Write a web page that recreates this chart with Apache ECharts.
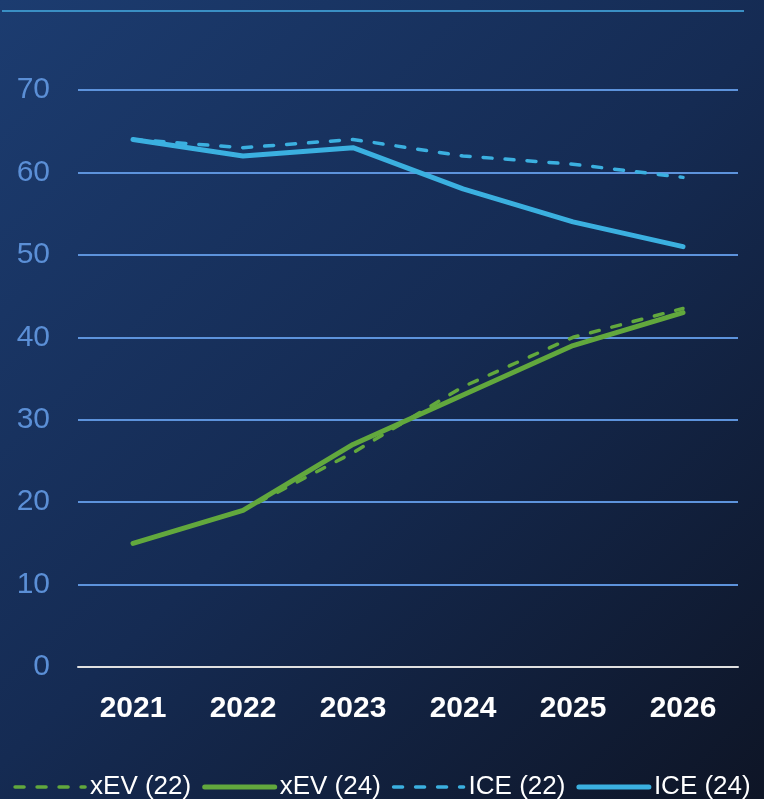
<!DOCTYPE html>
<html>
<head>
<meta charset="utf-8">
<script src="https://cdn.jsdelivr.net/npm/echarts@6/dist/echarts.min.js"></script>
<style>
  html, body { margin: 0; padding: 0; }
  #chart { width: 764px; height: 799px; }
</style>
</head>
<body>
<div id="chart"></div>
<script>
// Categories and series values
const years = ['2021', '2022', '2023', '2024', '2025', '2026'];
const xev22 = [15, 19, 26, 34, 40, 43.5];
const xev24 = [15, 19, 27, 33, 39, 43];
const ice22 = [64, 63, 64, 62, 61, 59.4];
const ice24 = [64, 62, 63, 58, 54, 51];
const yTicks = [0, 10, 20, 30, 40, 50, 60, 70];

const GREEN = '#62a83d';
const BLUE = '#3bb0e0';
const FONT = '"Liberation Sans", Arial, sans-serif';
const DASH_WIDTH = 3.5;
const SOLID_WIDTH = 5;

function dashedLine(name, data, color) {
  return {
    name, type: 'line', data, symbol: 'none', smooth: false,
    lineStyle: { color, width: DASH_WIDTH, type: [9, 13], cap: 'round' },
    itemStyle: { color },
    z: 2
  };
}
function solidLine(name, data, color) {
  return {
    name, type: 'line', data, symbol: 'none', smooth: false,
    lineStyle: { color, width: SOLID_WIDTH, type: 'solid', cap: 'round', join: 'round' },
    itemStyle: { color },
    z: 3
  };
}

const chart = echarts.init(document.getElementById('chart'), null, { renderer: 'canvas' });
chart.setOption({
  animation: false,
  backgroundColor: {
    type: 'linear', x: 0, y: 0, x2: 1, y2: 1,
    colorStops: [
      { offset: 0, color: '#1c3c70' },
      { offset: 0.5, color: '#152b53' },
      { offset: 1, color: '#0e1526' }
    ]
  },
  graphic: [{
    type: 'line',
    shape: { x1: 2, y1: 11, x2: 744, y2: 11 },
    style: { stroke: '#3a8fc4', lineWidth: 2 }
  }],
  grid: { left: 78, right: 26, top: 90, bottom: 132, containLabel: false },
  legend: {
    top: 769,
    left: 'center',
    itemWidth: 70,
    itemHeight: 14,
    itemGap: 11,
    itemStyle: { opacity: 0 },
    textStyle: { color: '#ffffff', fontSize: 26, fontFamily: FONT },
    data: [
      { name: 'xEV (22)', lineStyle: { width: DASH_WIDTH, cap: 'round' } },
      { name: 'xEV (24)', lineStyle: { width: SOLID_WIDTH, cap: 'round' } },
      { name: 'ICE (22)', lineStyle: { width: DASH_WIDTH, cap: 'round' } },
      { name: 'ICE (24)', lineStyle: { width: SOLID_WIDTH, cap: 'round' } }
    ]
  },
  xAxis: {
    type: 'category',
    data: years,
    boundaryGap: true,
    axisLine: { show: true, lineStyle: { color: '#e0e0e0', width: 2 } },
    axisTick: { show: false },
    axisLabel: { color: '#ffffff', fontSize: 30, fontWeight: 'bold', fontFamily: FONT, margin: 27 },
    splitLine: { show: false }
  },
  yAxis: {
    type: 'value',
    min: yTicks[0],
    max: yTicks[yTicks.length - 1],
    interval: 10,
    axisLine: { show: false },
    axisTick: { show: false },
    axisLabel: { color: '#5b8fd6', fontSize: 30, fontFamily: FONT, margin: 28 },
    splitLine: { show: true, lineStyle: { color: '#5d93dc', width: 1.8 } }
  },
  series: [
    dashedLine('xEV (22)', xev22, GREEN),
    solidLine('xEV (24)', xev24, GREEN),
    dashedLine('ICE (22)', ice22, BLUE),
    solidLine('ICE (24)', ice24, BLUE)
  ]
});
</script>
</body>
</html>
